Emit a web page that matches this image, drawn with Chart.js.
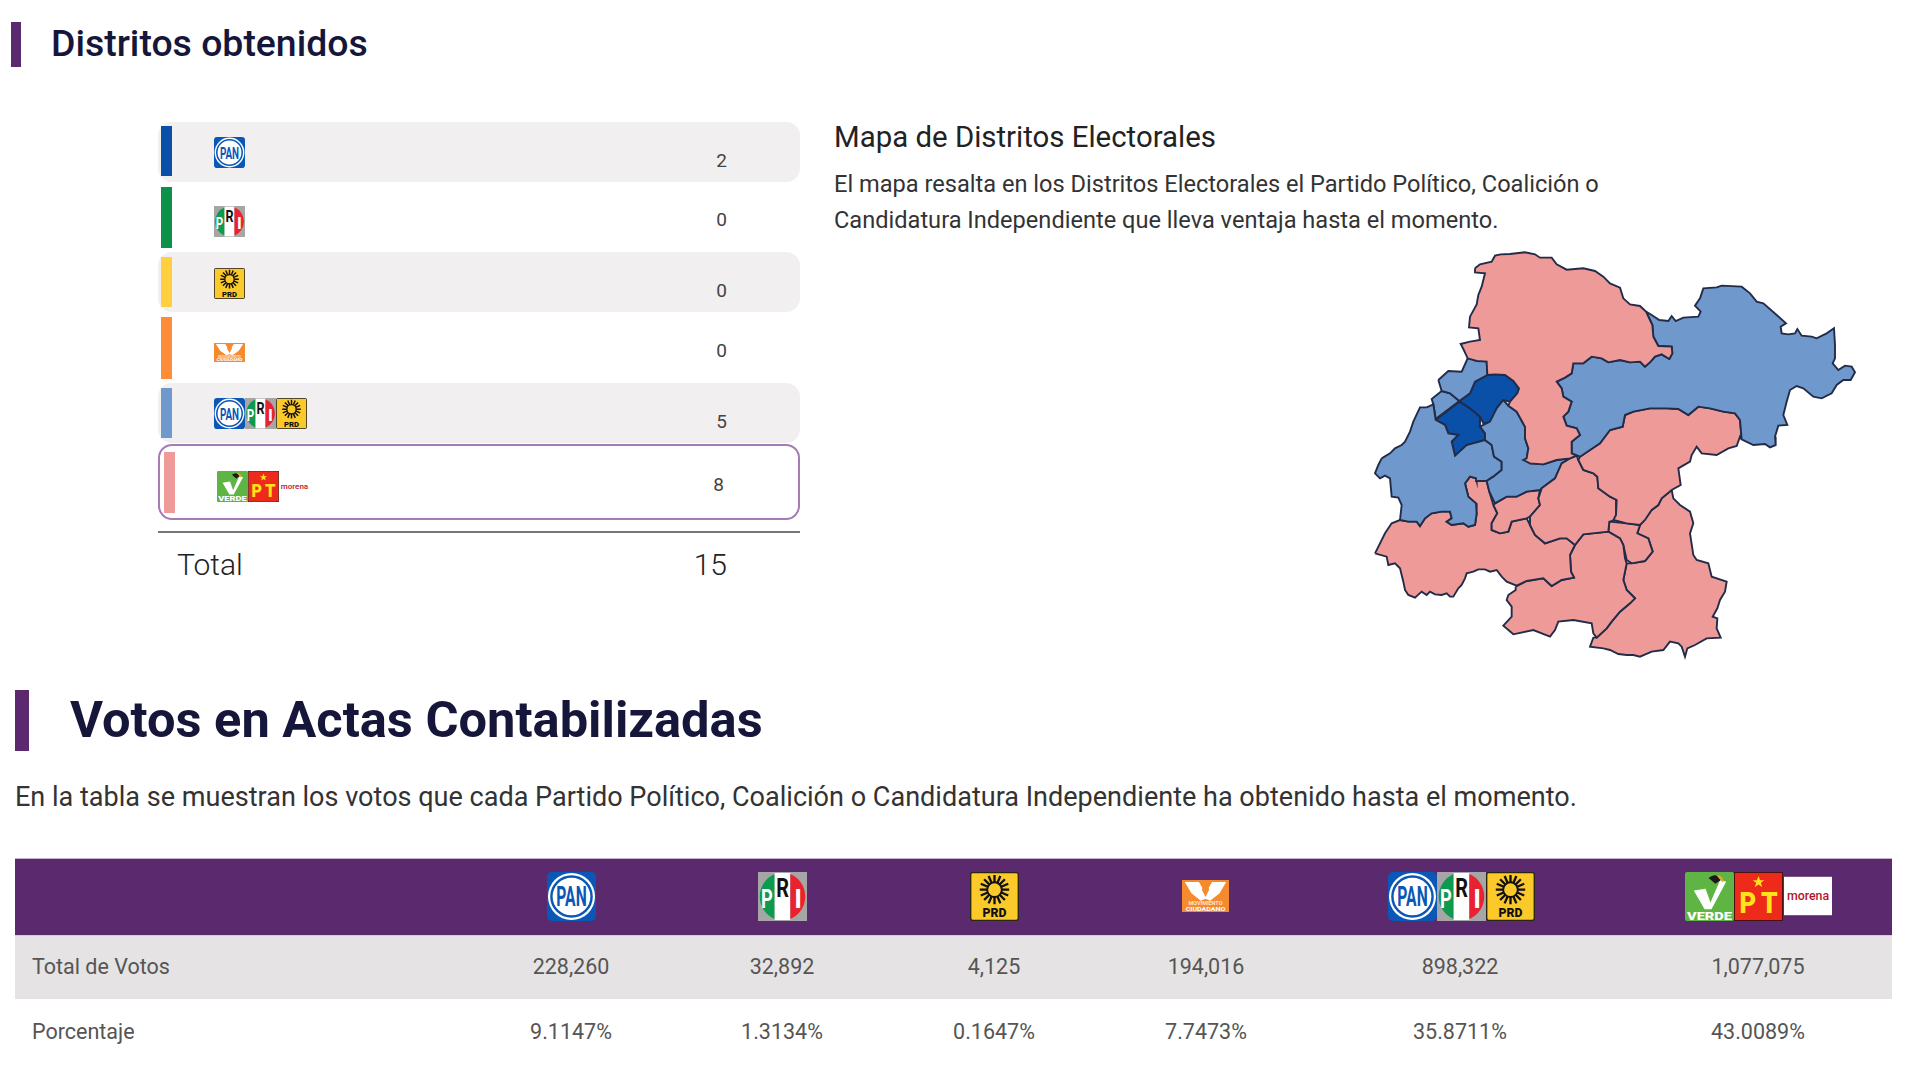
<!DOCTYPE html>
<html lang="es">
<head>
<meta charset="utf-8">
<title>Distritos obtenidos</title>
<script src="https://cdn.jsdelivr.net/npm/chart.js@4"></script>
<style>
    html, body { margin: 0; padding: 0; background: #fff; }
    body { width: 1920px; height: 1080px; position: relative; overflow: hidden; font-family: Roboto, sans-serif; color: #333; }
    .abs { position: absolute; white-space: nowrap; }
    .mid { line-height: 40px; height: 40px; margin-top: -20px; }
    .num { text-align: right; }
    .ctr { text-align: center; transform: translateX(-50%); }
    h2 { margin: 0; font-weight: 500; color: #16163a; }
    #mapbox { position: absolute; left: 1370px; top: 245px; width: 490px; height: 425px; }
    svg.logo { position: absolute; overflow: visible; display: block; }
</style>
</head>
<body>

<svg width="0" height="0" style="position:absolute">
    <defs>
        <symbol id="pan" viewBox="0 0 50 50">
            <rect width="50" height="50" rx="5" fill="#0b57b5"/>
            <circle cx="25" cy="25" r="24" fill="#fff"/>
            <circle cx="25" cy="25" r="20.5" fill="#fff" stroke="#0b57b5" stroke-width="2.5"/>
            <text x="25" y="35" text-anchor="middle" font-family="Roboto" font-weight="700" font-size="28" fill="#0b57b5" textLength="31" lengthAdjust="spacingAndGlyphs">PAN</text>
        </symbol>
        <symbol id="pri" viewBox="0 0 50 50">
            <rect width="50" height="50" fill="#a6a6a6"/>
            <path d="M17 2 A25 25 0 0 0 17 48 Z" fill="#0d9a4e"/>
            <rect x="17" y="1" width="16" height="48" fill="#fff"/>
            <path d="M33 2 A25 25 0 0 1 33 48 Z" fill="#e8222e"/>
            <text x="9" y="37" text-anchor="middle" font-family="Roboto" font-weight="700" font-size="27" fill="#fff" textLength="12" lengthAdjust="spacingAndGlyphs">P</text>
            <text x="25" y="25" text-anchor="middle" font-family="Roboto" font-weight="700" font-size="27" fill="#111" textLength="13" lengthAdjust="spacingAndGlyphs">R</text>
            <text x="41" y="37" text-anchor="middle" font-family="Roboto" font-weight="700" font-size="27" fill="#fff">I</text>
        </symbol>
        <symbol id="prd" viewBox="0 0 50 50">
            <rect x="0.7" y="0.7" width="48.6" height="48.6" rx="2" fill="#fcc92b" stroke="#2a2410" stroke-width="1.4"/>
            <g stroke="#111" stroke-width="2.4">
                <path d="M25 3 V33 M10 18 H40 M14.4 7.4 L35.6 28.6 M35.6 7.4 L14.4 28.6 M19 4 L31 32 M31 4 L19 32 M11 12 L39 24 M39 12 L11 24"/>
            </g>
            <circle cx="25" cy="18" r="7.5" fill="#fcc92b" stroke="#111" stroke-width="2"/>
            <text x="25" y="46" text-anchor="middle" font-family="Roboto" font-weight="900" font-size="12.5" fill="#111">PRD</text>
        </symbol>
        <symbol id="mc" viewBox="0 0 50 34" preserveAspectRatio="none">
            <rect width="50" height="34" fill="#f58a2e"/>
            <path d="M3 2 L18 2 L25 14 L32 2 L47 2 L40 14 L30 22 L25 20 L20 22 L10 14 Z" fill="#fff"/>
            <path d="M25 2 L29 10 L25 18 L21 10 Z" fill="#f58a2e"/>
            <text x="25" y="27" text-anchor="middle" font-family="Roboto" font-weight="700" font-size="5" fill="#ffe3c8" textLength="36" lengthAdjust="spacingAndGlyphs">MOVIMIENTO</text>
            <text x="25" y="33" text-anchor="middle" font-family="Roboto" font-weight="700" font-size="6" fill="#fff" textLength="42" lengthAdjust="spacingAndGlyphs">CIUDADANO</text>
        </symbol>
        <symbol id="verde" viewBox="0 0 50 50">
            <rect width="50" height="50" rx="2" fill="#5fb544"/>
            <path d="M9 19 L21 17 L26 31 L36 8 L42 10 L27 38 L20 38 Z" fill="#fff"/>
            <path d="M24 6 Q32 0 37 8 L31 12 Z" fill="#1a1a1a"/>
            <path d="M32 3 Q40 4 39 11 L35 7 Z" fill="#f4a51c"/>
            <text x="25" y="48.5" text-anchor="middle" font-family="Roboto" font-weight="900" font-size="12" fill="#fff" textLength="46" lengthAdjust="spacingAndGlyphs">VERDE</text>
        </symbol>
        <symbol id="pt" viewBox="0 0 50 50">
            <rect x="0.5" y="0.5" width="49" height="49" fill="#ee2a1b" stroke="#4a1210" stroke-width="1"/>
            <text x="14" y="42" text-anchor="middle" font-family="Roboto" font-weight="900" font-size="30" fill="#ffe21a" textLength="17" lengthAdjust="spacingAndGlyphs">P</text>
            <text x="36" y="42" text-anchor="middle" font-family="Roboto" font-weight="900" font-size="30" fill="#ffe21a" textLength="17" lengthAdjust="spacingAndGlyphs">T</text>
            <path d="M25 4 L26.6 8.5 L31 8.5 L27.4 11 L28.8 15.5 L25 12.8 L21.2 15.5 L22.6 11 L19 8.5 L23.4 8.5 Z" fill="#ffe21a"/>
        </symbol>
        <symbol id="morena" viewBox="0 0 50 40">
            <rect width="50" height="40" fill="#fff"/>
            <text x="25" y="24" text-anchor="middle" font-family="Roboto" font-weight="500" font-size="13" fill="#b5152b" textLength="44" lengthAdjust="spacingAndGlyphs">morena</text>
        </symbol>
    </defs>
</svg>

<div id="mapbox"><canvas id="map" width="490" height="425"></canvas></div>

<script>
// filas de la tabla de distritos
var districtParties = [['pan'], ['pri'], ['prd'], ['mc'], ['pan', 'pri', 'prd'], ['verde', 'pt', 'morena']];
var districtCounts = [2, 0, 0, 0, 5, 8];
var districtTotal = 15;
var districtColors = ['#0a4fa8', '#0d9048', '#ffcf40', '#ff8c38', '#6f98cc', '#ee9a98'];

// tabla de votos
var voteHeaders = [['pan'], ['pri'], ['prd'], ['mc'], ['pan', 'pri', 'prd'], ['verde', 'pt', 'morena']];
var voteTotals = ['228,260', '32,892', '4,125', '194,016', '898,322', '1,077,075'];
var votePercents = ['9.1147%', '1.3134%', '0.1647%', '7.7473%', '35.8711%', '43.0089%'];

// contornos de los distritos
var northDistrict = [[315,70],[330,58],[365,50],[375,32],[392,28],[420,27],[465,22],[495,28],[510,38],[545,38],[560,58],[590,74],[640,70],[675,78],[700,95],[720,115],[750,128],[760,160],[780,178],[810,183],[828,200],[840,225],[847,240],[850,275],[865,303],[905,305],[907,325],[898,342],[875,328],[855,335],[842,350],[825,365],[810,350],[780,352],[750,345],[715,352],[695,340],[665,335],[640,355],[610,355],[605,385],[585,398],[560,410],[575,430],[580,455],[605,470],[595,500],[580,515],[590,542],[620,550],[630,570],[605,590],[605,625],[620,632],[600,640],[560,645],[520,658],[480,655],[460,645],[470,640],[475,610],[465,580],[465,545],[440,500],[415,482],[420,470],[442,445],[447,430],[430,408],[405,390],[375,388],[352,390],[350,350],[320,348],[293,340],[280,312],[272,297],[300,290],[330,285],[325,250],[297,247],[300,215],[320,178],[325,150],[335,125],[345,85],[315,82]];
var eastDistrict = [[828,200],[845,210],[868,225],[895,228],[905,213],[917,228],[940,218],[985,215],[992,200],[975,182],[990,160],[1000,130],[1040,127],[1055,122],[1115,125],[1140,145],[1160,170],[1180,175],[1220,210],[1248,235],[1232,245],[1235,265],[1255,268],[1275,265],[1282,252],[1295,272],[1325,275],[1340,280],[1370,265],[1392,250],[1395,300],[1395,340],[1388,355],[1405,375],[1425,362],[1445,365],[1455,382],[1442,405],[1420,405],[1400,420],[1385,445],[1355,460],[1330,455],[1300,430],[1280,423],[1260,435],[1250,470],[1240,510],[1252,540],[1225,542],[1215,575],[1217,600],[1200,607],[1185,597],[1150,600],[1115,583],[1110,525],[1095,505],[1060,500],[1020,490],[985,485],[955,510],[925,492],[890,490],[840,490],[790,500],[765,510],[758,545],[720,555],[690,595],[660,615],[630,635],[605,625],[605,590],[630,570],[620,550],[590,542],[580,515],[595,500],[605,470],[580,455],[575,430],[560,410],[585,398],[605,385],[610,355],[640,355],[665,335],[695,340],[715,352],[750,345],[780,352],[810,350],[825,365],[842,350],[855,335],[875,328],[898,342],[907,325],[905,305],[865,303],[850,275],[847,240],[840,225]];
var centerEastDistrict = [[1115,583],[1110,525],[1095,505],[1060,500],[1020,490],[985,485],[955,510],[925,492],[890,490],[840,490],[790,500],[765,510],[758,545],[720,555],[690,595],[660,615],[630,635],[625,645],[640,675],[670,685],[682,695],[685,730],[720,755],[740,765],[738,810],[730,825],[770,835],[810,840],[825,825],[845,795],[865,780],[875,760],[905,735],[932,720],[925,670],[960,650],[965,630],[980,605],[995,625],[1040,630],[1075,610],[1100,603],[1110,575]];
var centerDistrict = [[600,640],[575,655],[555,700],[515,730],[505,760],[510,780],[480,815],[480,840],[495,870],[525,895],[570,880],[590,880],[615,900],[640,868],[715,860],[718,830],[738,825],[740,765],[720,755],[685,730],[682,695],[670,685],[640,675],[625,645],[620,632]];
var smallDistrict = [[370,780],[382,805],[365,835],[365,855],[390,865],[415,860],[425,830],[470,820],[480,815],[510,780],[505,760],[510,735],[470,740],[440,755],[410,755],[375,775]];
var southWestDistrict = [[15,925],[30,895],[45,865],[65,835],[90,825],[115,830],[140,830],[150,843],[165,820],[185,805],[215,800],[240,800],[245,820],[230,830],[245,840],[280,835],[295,845],[315,840],[320,805],[318,775],[295,755],[285,715],[300,695],[318,700],[320,708],[350,708],[358,740],[370,780],[382,805],[365,835],[365,855],[390,865],[415,860],[425,830],[470,820],[480,840],[495,870],[525,895],[570,880],[590,880],[615,900],[600,930],[603,980],[612,998],[575,1005],[545,1023],[520,1000],[470,1008],[440,1022],[410,1010],[395,995],[380,975],[360,980],[345,973],[325,973],[310,980],[290,985],[285,1000],[275,1020],[265,1030],[250,1055],[240,1055],[230,1045],[215,1050],[195,1048],[180,1040],[170,1050],[155,1040],[135,1058],[115,1050],[105,1035],[100,1010],[90,970],[75,955],[55,960],[50,935]];
var southDistrict = [[437,1025],[470,1008],[520,1000],[545,1023],[575,1005],[612,998],[603,980],[600,930],[615,900],[640,868],[715,860],[750,880],[760,900],[765,940],[770,955],[760,1005],[770,1035],[795,1060],[780,1075],[750,1100],[725,1130],[710,1150],[680,1178],[670,1165],[665,1135],[610,1125],[565,1130],[555,1155],[540,1175],[490,1155],[430,1168],[400,1142],[425,1115],[425,1085],[410,1065],[415,1050],[437,1035]];
var midSouthDistrict = [[718,830],[770,835],[810,840],[802,865],[835,880],[848,920],[825,948],[785,955],[770,945],[760,900],[750,880],[715,860]];
var southEastDistrict = [[905,735],[910,760],[930,780],[960,800],[970,835],[960,865],[970,930],[980,945],[1015,955],[1025,995],[1070,1010],[1065,1040],[1050,1065],[1042,1090],[1028,1115],[1042,1120],[1040,1150],[1052,1178],[1010,1180],[975,1200],[952,1210],[945,1235],[935,1205],[925,1195],[900,1190],[880,1215],[845,1220],[810,1235],[790,1230],[770,1230],[745,1227],[720,1215],[700,1210],[660,1205],[670,1178],[680,1178],[710,1150],[725,1130],[750,1100],[780,1075],[795,1060],[770,1035],[760,1005],[770,955],[785,955],[825,948],[848,920],[835,880],[802,865],[810,840],[830,815],[845,795],[865,780],[875,760]];
var westDistrict = [[35,640],[60,625],[75,610],[95,600],[105,590],[120,560],[130,530],[150,487],[170,487],[190,478],[197,525],[225,540],[235,565],[265,570],[245,590],[255,632],[290,600],[345,585],[365,600],[372,635],[395,650],[395,675],[370,695],[350,708],[320,708],[318,700],[300,695],[285,715],[295,755],[318,775],[320,805],[315,840],[295,845],[280,835],[245,840],[230,830],[245,820],[240,800],[215,800],[185,805],[165,820],[150,843],[140,830],[115,830],[90,825],[95,780],[85,758],[65,755],[60,700],[45,692],[30,700],[15,685],[25,660]];
var innerDistrict = [[400,465],[415,482],[440,500],[465,545],[465,580],[475,610],[470,640],[480,655],[520,658],[560,645],[600,640],[575,655],[555,700],[515,730],[510,735],[470,740],[440,755],[410,755],[375,775],[358,740],[350,708],[370,695],[395,675],[395,650],[372,635],[365,600],[345,585],[345,565],[330,545],[360,530],[380,490]];
var upperWestDistrict = [[205,405],[235,378],[275,380],[293,340],[350,350],[352,390],[315,410],[300,445],[268,468],[240,445],[215,438]];
var tinyWestDistrict = [[215,438],[240,445],[268,468],[197,522],[190,478],[185,462]];
var panNorthDistrict = [[268,468],[300,445],[315,410],[352,390],[375,388],[405,390],[430,408],[447,430],[442,445],[420,470],[400,465],[380,490],[365,530],[340,535],[330,515],[300,490]];
var panSouthDistrict = [[197,525],[268,470],[300,490],[330,515],[330,545],[345,565],[345,585],[290,600],[255,632],[245,590],[265,570],[235,565],[225,540]];

var PINK = '#ee9a98', BLUE = '#6f98cc', DARK = '#0a4fa8';
var districts = [
    [northDistrict, PINK], [eastDistrict, BLUE], [centerEastDistrict, PINK], [centerDistrict, PINK],
    [innerDistrict, BLUE], [smallDistrict, PINK], [westDistrict, BLUE], [southWestDistrict, PINK],
    [southDistrict, PINK], [midSouthDistrict, PINK], [southEastDistrict, PINK],
    [upperWestDistrict, BLUE], [tinyWestDistrict, BLUE], [panNorthDistrict, DARK], [panSouthDistrict, DARK]
];

function add(cls, left, top, text, extra) {
    var el = document.createElement('div');
    el.className = 'abs ' + cls;
    el.style.left = left + 'px';
    el.style.top = top + 'px';
    if (text !== null) el.textContent = text;
    if (extra) el.style.cssText += extra;
    document.body.appendChild(el);
    return el;
}

function logo(id, left, top, w, h) {
    var svg = document.createElementNS('http://www.w3.org/2000/svg', 'svg');
    svg.setAttribute('class', 'logo');
    svg.style.cssText = 'left:' + left + 'px;top:' + top + 'px;width:' + w + 'px;height:' + h + 'px';
    var use = document.createElementNS('http://www.w3.org/2000/svg', 'use');
    use.setAttribute('href', '#' + id);
    use.setAttribute('width', w);
    use.setAttribute('height', h);
    svg.appendChild(use);
    document.body.appendChild(svg);
}

// encabezados
add('', 11, 22, null, 'width:10px;height:45px;background:#5b2a6e');
add('mid', 51, 43, null).innerHTML = '<h2 style="font-size:37.4px">Distritos obtenidos</h2>';
add('', 15, 690, null, 'width:14px;height:61px;background:#5b2a6e');
add('', 70, 692, null).innerHTML = '<h2 style="font-size:50.6px;line-height:56px;font-weight:700">Votos en Actas Contabilizadas</h2>';
add('mid', 15, 797, 'En la tabla se muestran los votos que cada Partido Político, Coalición o Candidatura Independiente ha obtenido hasta el momento.', 'font-size:27.05px;color:#333');

// texto del mapa
add('mid', 834, 137, 'Mapa de Distritos Electorales', 'font-size:29.4px;color:#222');
add('mid', 834, 184, 'El mapa resalta en los Distritos Electorales el Partido Político, Coalición o', 'font-size:23.6px');
add('mid', 834, 220, 'Candidatura Independiente que lleva ventaja hasta el momento.', 'font-size:23.6px');

// tabla de distritos
var rowBgTops = [122, null, 252, null, 383];
var swatchTops = [126, 187, 257, 317, 388, 452];
var swatchHeights = [50, 61, 50, 62, 50, 61];
var logoTops = [137, 206, 268, 343, 398, 471];
var numCenters = [161, 220, 291, 351, 422, 485];

rowBgTops.forEach(function (top) {
    if (top !== null) add('', 158, top, null, 'width:642px;height:60px;background:#f1efef;border-radius:14px');
});
add('', 158, 444, null, 'width:638px;height:72px;border:2.5px solid #a77bb5;border-radius:14px');

districtParties.forEach(function (ids, i) {
    var left = i == 5 ? 164 : 161;
    add('', left, swatchTops[i], null, 'width:11px;height:' + swatchHeights[i] + 'px;background:' + districtColors[i]);
    var x = i == 5 ? 217 : 214;
    ids.forEach(function (id) {
        if (id == 'mc') logo(id, x, logoTops[i], 31, 19);
        else if (id == 'morena') logo(id, x, logoTops[i] + 3, 31, 25);
        else logo(id, x, logoTops[i], 31, 31);
        x += 31;
    });
    add('mid num', i == 5 ? 624 : 627, numCenters[i], String(districtCounts[i]), 'width:100px;font-size:19px;color:#444');
});
add('', 158, 531, null, 'width:642px;height:2px;background:#777');
add('mid', 177, 565, 'Total', 'font-size:30px;font-weight:300;color:#222');
add('mid num', 627, 565, String(districtTotal), 'width:100px;font-size:30px;font-weight:300;color:#222');

// tabla de votos
var colCenters = [571, 782, 994, 1206, 1460, 1758];
add('', 15, 858, null, 'width:1877px;height:76px;background:#5b2a6e;border-top:1px solid #c9b3d2;border-bottom:2px solid #d8c8de');
add('', 15, 936, null, 'width:1877px;height:63px;background:#e5e3e4');
add('mid', 32, 967, 'Total de Votos', 'font-size:21.5px;color:#555');
add('mid', 32, 1032, 'Porcentaje', 'font-size:21.5px;color:#555');
voteHeaders.forEach(function (ids, i) {
    var c = colCenters[i];
    if (ids.length == 1) {
        if (ids[0] == 'mc') logo('mc', c - 24, 880, 47, 32);
        else logo(ids[0], c - 24, 872, 49, 49);
    } else if (ids[0] == 'pan') {
        logo('pan', c - 72, 872, 49, 49);
        logo('pri', c - 23, 872, 49, 49);
        logo('prd', c + 26, 872, 49, 49);
    } else {
        logo('verde', c - 73, 872, 49, 49);
        logo('pt', c - 24, 872, 49, 49);
        logo('morena', c + 26, 876, 48, 40);
    }
    add('mid ctr', c, 967, voteTotals[i], 'font-size:21.5px;color:#555');
    add('mid ctr', c, 1032, votePercents[i], 'font-size:21.5px;color:#555');
});

// mapa: cada distrito es una linea cerrada y rellena sobre escalas lineales
new Chart(document.getElementById('map').getContext('2d'), {
    type: 'scatter',
    data: {
        datasets: districts.map(function (d) {
            return {
                data: d[0].concat([d[0][0]]),
                showLine: true,
                fill: 'shape',
                tension: 0,
                pointRadius: 0,
                borderWidth: 1.9,
                borderColor: '#222c48',
                backgroundColor: d[1]
            };
        })
    },
    options: {
        responsive: false,
        animation: false,
        events: [],
        layout: { padding: 0 },
        plugins: { legend: { display: false }, tooltip: { enabled: false } },
        scales: {
            x: { type: 'linear', display: false, min: 0, max: 1470 },
            y: { type: 'linear', display: false, min: 0, max: 1275, reverse: true }
        }
    }
});
</script>
</body>
</html>
